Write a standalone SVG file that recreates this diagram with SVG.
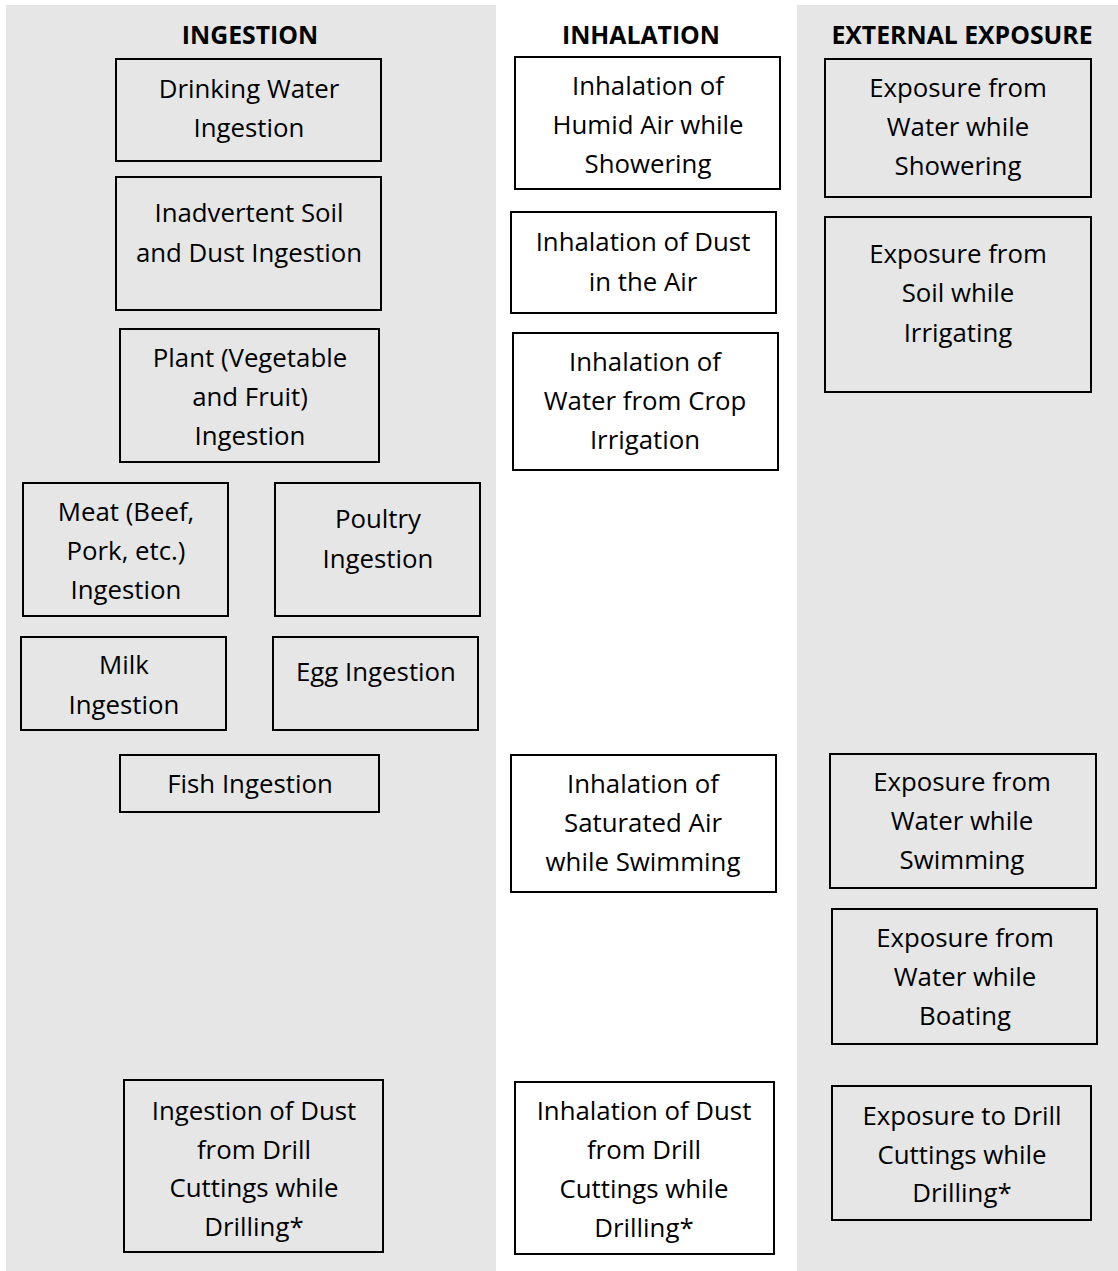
<svg xmlns="http://www.w3.org/2000/svg" width="1118" height="1271" viewBox="0 0 1118 1271">
<style>
.bg{fill:#e6e6e6;stroke:none}
.box{fill:none;stroke:#000;stroke-width:2}
text{font-family:"Open Sans","Noto Sans","Liberation Sans",sans-serif;font-size:25.8px;fill:#000;text-anchor:middle}
.hd{font-weight:bold;font-size:24.8px}
</style>
<rect width="1118" height="1271" fill="#ffffff"/>
<g id="columns">
<rect class="bg" x="6" y="5" width="490" height="1266"/>
<rect class="bg" x="797" y="5" width="321" height="1266"/>
</g>
<g id="headers">
<text class="hd" x="250" y="44">INGESTION</text>
<text class="hd" x="641" y="44">INHALATION</text>
<text class="hd" x="962" y="44">EXTERNAL EXPOSURE</text>
</g>
<g id="connectors"></g>
<g id="drinking-water">
<rect class="box" x="116" y="59" width="265" height="102"/>
<text x="249" y="98">Drinking Water</text>
<text x="249" y="137">Ingestion</text>
</g>
<g id="soil-dust">
<rect class="box" x="116" y="177" width="265" height="133"/>
<text x="249" y="222">Inadvertent Soil</text>
<text x="249" y="262">and Dust Ingestion</text>
</g>
<g id="plant">
<rect class="box" x="120" y="329" width="259" height="133"/>
<text x="250" y="367">Plant (Vegetable</text>
<text x="250" y="406">and Fruit)</text>
<text x="250" y="445">Ingestion</text>
</g>
<g id="meat">
<rect class="box" x="23" y="483" width="205" height="133"/>
<text x="126" y="521">Meat (Beef,</text>
<text x="126" y="560">Pork, etc.)</text>
<text x="126" y="599">Ingestion</text>
</g>
<g id="poultry">
<rect class="box" x="275" y="483" width="205" height="133"/>
<text x="378" y="528">Poultry</text>
<text x="378" y="568">Ingestion</text>
</g>
<g id="milk">
<rect class="box" x="21" y="637" width="205" height="93"/>
<text x="124" y="674">Milk</text>
<text x="124" y="714">Ingestion</text>
</g>
<g id="egg">
<rect class="box" x="273" y="637" width="205" height="93"/>
<text x="376" y="681">Egg Ingestion</text>
</g>
<g id="fish">
<rect class="box" x="120" y="755" width="259" height="57"/>
<text x="250" y="793">Fish Ingestion</text>
</g>
<g id="ingestion-drill">
<rect class="box" x="124" y="1080" width="259" height="172"/>
<text x="254" y="1120">Ingestion of Dust</text>
<text x="254" y="1159">from Drill</text>
<text x="254" y="1197">Cuttings while</text>
<text x="254" y="1236">Drilling*</text>
</g>
<g id="humid-air">
<rect class="box" x="515" y="57" width="265" height="132"/>
<text x="648" y="95">Inhalation of</text>
<text x="648" y="134">Humid Air while</text>
<text x="648" y="173">Showering</text>
</g>
<g id="dust-air">
<rect class="box" x="511" y="212" width="265" height="101"/>
<text x="643" y="251">Inhalation of Dust</text>
<text x="643" y="291">in the Air</text>
</g>
<g id="crop-irrigation">
<rect class="box" x="513" y="333" width="265" height="137"/>
<text x="645" y="371">Inhalation of</text>
<text x="645" y="410">Water from Crop</text>
<text x="645" y="449">Irrigation</text>
</g>
<g id="saturated-air">
<rect class="box" x="511" y="755" width="265" height="137"/>
<text x="643" y="793">Inhalation of</text>
<text x="643" y="832">Saturated Air</text>
<text x="643" y="871">while Swimming</text>
</g>
<g id="inhalation-drill">
<rect class="box" x="515" y="1082" width="259" height="172"/>
<text x="644" y="1120">Inhalation of Dust</text>
<text x="644" y="1159">from Drill</text>
<text x="644" y="1198">Cuttings while</text>
<text x="644" y="1237">Drilling*</text>
</g>
<g id="water-showering">
<rect class="box" x="825" y="59" width="266" height="138"/>
<text x="958" y="97">Exposure from</text>
<text x="958" y="136">Water while</text>
<text x="958" y="175">Showering</text>
</g>
<g id="soil-irrigating">
<rect class="box" x="825" y="217" width="266" height="175"/>
<text x="958" y="263">Exposure from</text>
<text x="958" y="302">Soil while</text>
<text x="958" y="342">Irrigating</text>
</g>
<g id="water-swimming">
<rect class="box" x="830" y="754" width="266" height="134"/>
<text x="962" y="791">Exposure from</text>
<text x="962" y="830">Water while</text>
<text x="962" y="869">Swimming</text>
</g>
<g id="water-boating">
<rect class="box" x="832" y="909" width="265" height="135"/>
<text x="965" y="947">Exposure from</text>
<text x="965" y="986">Water while</text>
<text x="965" y="1025">Boating</text>
</g>
<g id="exposure-drill">
<rect class="box" x="832" y="1086" width="259" height="134"/>
<text x="962" y="1125">Exposure to Drill</text>
<text x="962" y="1164">Cuttings while</text>
<text x="962" y="1202">Drilling*</text>
</g>
</svg>
